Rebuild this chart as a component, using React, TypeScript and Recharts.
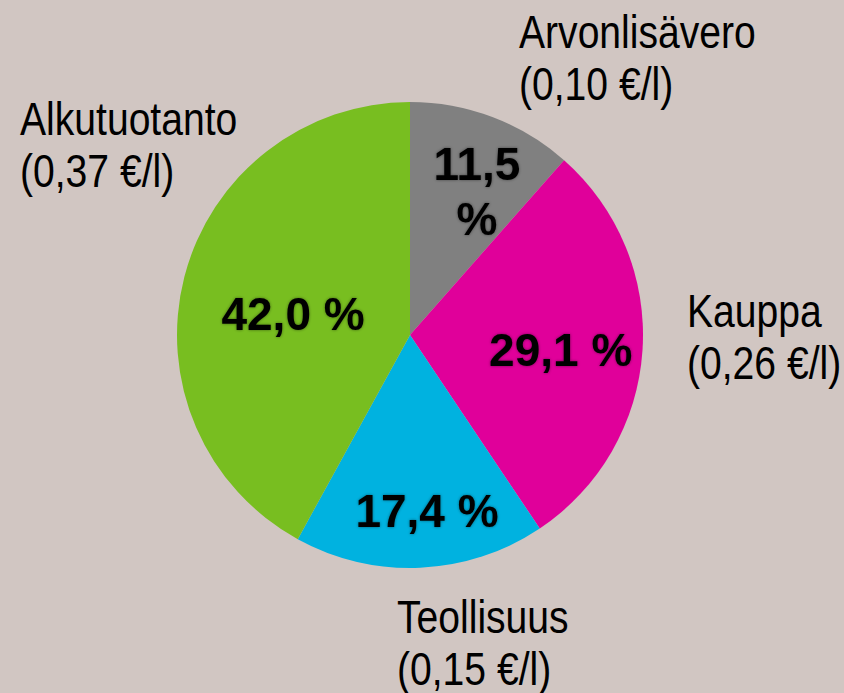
import React from "react";
import { PieChart, Pie, Cell } from "recharts";

// ---- data ----
const categories = ["Arvonlisävero", "Kauppa", "Teollisuus", "Alkutuotanto"];
const prices = ["0,10", "0,26", "0,15", "0,37"];
const shares = [11.5, 29.1, 17.4, 42.0];

// ---- styles ----
const COLORS = ["#808080", "#E0009A", "#00B2E0", "#78BE20"];
const BG = "#D1C6C2";
const W = 844;
const H = 693;
const CX = 410;
const CY = 335;
const R = 233;
// inner label placement: radius factor and angle offset (deg)
const innerRadiusFactor = [0.68, 0.65, 0.76, 0.51];
const innerAngleOffset = [-4.3, -1.9, 3, 4.2];
// outer label placement relative to pie centre (left x, first baseline)
const outerDx = [109, 277, -13, -390];
const outerDy = [-287, -8, 298, -200];
const LINE_H = 52;
const NARROW = 0.85;
const OUTER_FONT = "'Liberation Sans', Arial, sans-serif";
const INNER_FONT = "'Liberation Sans', Arial, sans-serif";

const data = categories.map((name, i) => ({ name, value: shares[i], price: prices[i] }));

const fmt = (v: number) => v.toFixed(1).replace(".", ",");

const RAD = Math.PI / 180;

const renderLabel = (props: any) => {
  const { cx, cy, midAngle, outerRadius, index } = props;
  const ang = (midAngle + innerAngleOffset[index]) * RAD;
  const d = outerRadius * innerRadiusFactor[index];
  const x = cx + Math.cos(ang) * d;
  const y = cy - Math.sin(ang) * d;
  const pct = fmt(shares[index]);
  const ox = cx + outerDx[index];
  const oy = cy + outerDy[index];
  const innerCommon = {
    textAnchor: "middle" as const,
    fontFamily: INNER_FONT,
    fontWeight: 700,
    fontSize: 46,
    fill: "#000",
    filter: "url(#lblGlow)",
  };
  return (
    <g>
      {index === 0 ? (
        <text x={x} y={y} {...innerCommon}>
          <tspan x={x} y={y - 11}>{pct}</tspan>
          <tspan x={x} y={y + 44}>%</tspan>
        </text>
      ) : (
        <text x={x} y={y + 16} {...innerCommon}>
          {pct + " %"}
        </text>
      )}
      <g transform={`translate(${ox},${oy}) scale(${NARROW},1)`}>
        <text x={0} y={0} fontFamily={OUTER_FONT} fontSize={46} fill="#000" textAnchor="start">
          <tspan x={0} y={0}>{categories[index]}</tspan>
          <tspan x={0} y={LINE_H}>{"(" + prices[index] + " €/l)"}</tspan>
        </text>
      </g>
    </g>
  );
};

export default function App() {
  return (
    <div style={{ width: W, height: H, background: BG, position: "relative", overflow: "hidden" }}>
      <style>{`body{margin:0;background:${BG};}`}</style>
      <svg width={0} height={0} style={{ position: "absolute" }}>
        <defs>
          <filter id="lblGlow" x="-20%" y="-20%" width="140%" height="140%">
            <feGaussianBlur in="SourceAlpha" stdDeviation="1.6" result="blur" />
            <feFlood floodColor="#000" floodOpacity="0.45" />
            <feComposite in2="blur" operator="in" result="shadow" />
            <feMerge>
              <feMergeNode in="shadow" />
              <feMergeNode in="SourceGraphic" />
            </feMerge>
          </filter>
        </defs>
      </svg>
      <PieChart width={W} height={H} margin={{ top: 0, right: 0, bottom: 0, left: 0 }}>
        <Pie
          data={data}
          dataKey="value"
          nameKey="name"
          cx={CX}
          cy={CY}
          outerRadius={R}
          startAngle={90}
          endAngle={-270}
          stroke="none"
          isAnimationActive={false}
          labelLine={false}
          label={renderLabel}
        >
          {data.map((d, i) => (
            <Cell key={d.name} fill={COLORS[i]} />
          ))}
        </Pie>
      </PieChart>
    </div>
  );
}
